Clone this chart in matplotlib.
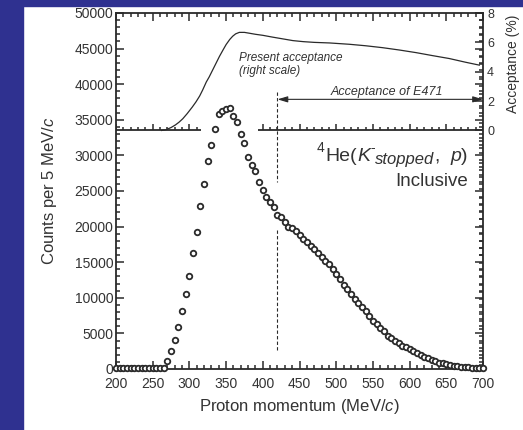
import numpy as np
import matplotlib
matplotlib.use('Agg')
import matplotlib.pyplot as plt
from matplotlib.patches import Rectangle
from matplotlib.ticker import MultipleLocator
from matplotlib.transforms import offset_copy

plt.rcParams['font.family'] = ['Liberation Sans', 'DejaVu Sans']
plt.rcParams['mathtext.fontset'] = 'custom'
plt.rcParams['mathtext.rm'] = 'Liberation Sans'
plt.rcParams['mathtext.it'] = 'Liberation Sans:italic'

# proton momentum bins (MeV/c), 5 MeV/c wide
momentum = np.arange(200, 705, 5)
counts = [150, 120, 100, 130, 110, 90, 120, 100, 80, 110, 100, 120, 150, 200,
          1100, 2560, 4060, 5900, 8150, 10500, 13100, 16300, 19200, 22900,
          26000, 29200, 31500, 33700, 35800, 36200, 36500, 36700, 35600, 34700,
          33000, 31700, 29800, 28700, 27800, 26200, 25200, 24200, 23400, 22700,
          21600, 21400, 20700, 19900, 19800, 19400, 18800, 18300, 17800, 17300,
          16800, 16300, 15800, 15200, 14700, 14000, 13400, 12700, 11800, 11300,
          10600, 9900, 9200, 8700, 8200, 7400, 6700, 6300, 5700, 5300,
          4700, 4300, 4000, 3600, 3250, 3050, 2800, 2500, 2200, 1950,
          1700, 1500, 1260, 1080, 900, 800, 660, 560, 470, 420,
          330, 280, 230, 190, 170, 140, 120]

# present acceptance curve (%), right scale
acc_p = [262, 268, 275, 281, 286, 291, 297, 304, 309, 314, 318, 323, 327, 332,
         337, 341, 346, 350, 355, 359, 363, 368, 375, 382, 390, 400, 413, 427,
         441, 455, 470, 491, 518, 540, 563, 586, 609, 631, 654, 676, 695]
acc_v = [0.0, 0.05, 0.2, 0.38, 0.57, 0.8, 1.15, 1.6, 1.95, 2.35, 2.75, 3.3, 3.65, 4.15,
         4.65, 5.05, 5.5, 5.85, 6.2, 6.42, 6.58, 6.68, 6.68, 6.62, 6.55, 6.48, 6.36, 6.24,
         6.12, 6.05, 6.0, 5.96, 5.87, 5.77, 5.64, 5.48, 5.3, 5.1, 4.9, 4.65, 4.45]

break_count = 33500   # acceptance 0 sits here on the count scale
e471_range = [420, 700]

ink = '#2a2a2a'
txt = '#333333'

fig = plt.figure(figsize=(5.23, 4.30), dpi=100)
fig.patches.append(Rectangle((0, 0), 23 / 523, 1, transform=fig.transFigure,
                             color='#2f3190', zorder=-1))
fig.patches.append(Rectangle((0, 1 - 6 / 430), 1, 6 / 430, transform=fig.transFigure,
                             color='#2f3190', zorder=-1))

ax = fig.add_axes([116 / 523, 1 - 369 / 430, 367 / 523, 356 / 430])
ax.set_xlim(200, 700)
ax.set_ylim(0, 50000)

ax.plot(momentum, counts, 'o', ms=4.0, mfc='white', mec=ink, mew=1.3,
        clip_on=False, zorder=5)

for s in ax.spines.values():
    s.set_linewidth(1.3)
    s.set_color(ink)
ax.xaxis.set_major_locator(MultipleLocator(50))
ax.xaxis.set_minor_locator(MultipleLocator(10))
ax.yaxis.set_major_locator(MultipleLocator(5000))
ax.yaxis.set_minor_locator(MultipleLocator(1000))

ax.set_xlabel('Proton momentum (MeV/$c$)', fontsize=12, color=txt, labelpad=4)
ax.set_ylabel('Counts per 5 MeV/$c$', fontsize=12, color=txt, labelpad=11)

# dashed line at the lower limit of E471
ax.plot([420, 420], [38900, 26200], ls=(0, (3, 2)), lw=0.8, color=ink)
ax.plot([420, 420], [19500, 2400], ls=(0, (3, 2)), lw=0.8, color=ink)

# reaction label, pieced together so the subscript can be large
# (text, size, style, dy px, gap after px)
pieces = [('4', 10, 'normal', 9, 1),
          ('He(', 14, 'normal', 0, 0),
          ('K', 14, 'italic', 0, 0),
          ('-', 10, 'normal', 9, 0),
          ('stopped', 12, 'italic', -3, 0),
          (',', 14, 'normal', 0, 11),
          ('p', 14, 'italic', 0, 0),
          (')', 14, 'normal', 0, 0)]
renderer = fig.canvas.get_renderer()
widths = []
for s, size, style, dy, gap in pieces:
    t = fig.text(0, 0, s, fontsize=size, style=style)
    widths.append(t.get_window_extent(renderer).width)
    t.remove()
cur = -sum(w + p[4] for w, p in zip(widths, pieces))
for w, (s, size, style, dy, gap) in zip(widths, pieces):
    ax.text(679, 29200, s, fontsize=size, style=style, color=txt,
            ha='left', va='baseline',
            transform=offset_copy(ax.transData, fig=fig, x=cur, y=dy, units='dots'))
    cur += w + gap
ax.text(679, 26400, 'Inclusive', fontsize=13.5, ha='right', va='center', color=txt)

# acceptance on the right scale
ax2 = ax.twinx()
ax2.set_xlim(200, 700)
for s in ax2.spines.values():
    s.set_visible(False)
ax2.plot(acc_p, acc_v, color=ink, lw=0.9)
ax2.set_yticks([0, 2, 4, 6, 8])
ax2.yaxis.set_minor_locator(MultipleLocator(0.5))
ax2.set_ylim(-8 * break_count / (50000 - break_count), 8)
ax2.tick_params(which='both', direction='in', colors=ink, labelsize=9, pad=3,
                width=1.1)
ax2.tick_params(which='major', length=6)
ax2.tick_params(which='minor', length=3)
for lab in ax2.get_yticklabels():
    lab.set_color(txt)
ax2.text(1.082, 0.857, 'Acceptance (%)', transform=ax2.transAxes, rotation=90,
         fontsize=10, color=txt, ha='center', va='center')

# main ticks (twinx moved them to the left only, put the right ones back)
ax.yaxis.set_ticks_position('both')
ax.tick_params(which='both', direction='in', top=True, right=True, colors=ink,
               labelsize=10, width=1.1)
ax.tick_params(which='major', length=6)
ax.tick_params(which='minor', length=3)
ax.tick_params(axis='x', pad=6)
ax.tick_params(axis='y', pad=2)
for lab in ax.get_xticklabels() + ax.get_yticklabels():
    lab.set_color(txt)

# broken axis line with upward ticks
for x0, x1 in [(200, 316), (394, 700)]:
    ax2.plot([x0, x1], [0, 0], color=ink, lw=1.3, solid_capstyle='butt')
    major = [x for x in range(200, 701, 50) if x0 <= x <= x1]
    minor = [x for x in range(200, 701, 10) if x0 <= x <= x1 and x % 50]
    ax2.vlines(major, 0, 0.42, color=ink, lw=1.1)
    ax2.vlines(minor, 0, 0.21, color=ink, lw=1.1)

ax2.text(368, 4.47, 'Present acceptance\n(right scale)', fontsize=8.5, style='italic',
         ha='left', va='center', color=txt, linespacing=1.1)
ax2.annotate('', xy=(e471_range[0], 2.12), xytext=(e471_range[1], 2.12),
             arrowprops=dict(arrowstyle='<|-|>,head_length=0.6,head_width=0.18',
                             color=ink, lw=0.8, shrinkA=0, shrinkB=0))
ax2.text(569, 2.6, 'Acceptance of E471', fontsize=9, style='italic',
         ha='center', va='center', color=txt)

fig.savefig('out.png', dpi=100)
